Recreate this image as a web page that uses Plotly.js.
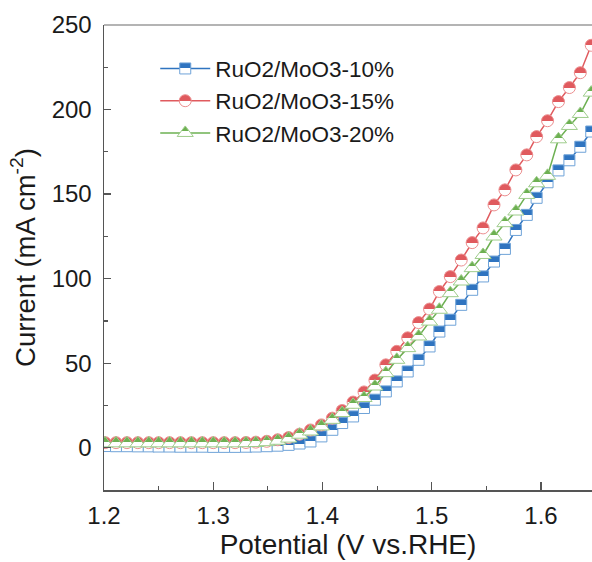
<!DOCTYPE html>
<html><head><meta charset="utf-8">
<script src="https://cdn.plot.ly/plotly-3.0.1.min.js"></script>
<style>html,body{margin:0;padding:0;background:#fff;overflow:hidden}</style>
</head><body><div id="chart" style="width:592px;height:562px"></div>
<script>
const potential = [1.201,1.211,1.221,1.231,1.241,1.250,1.260,1.270,1.280,1.290,
  1.300,1.310,1.320,1.330,1.339,1.349,1.359,1.369,1.379,1.389,
  1.399,1.409,1.418,1.428,1.438,1.448,1.458,1.468,1.478,1.488,
  1.498,1.507,1.517,1.527,1.537,1.547,1.557,1.567,1.577,1.587,
  1.596,1.606,1.616,1.626,1.636,1.646];
const current10 = [1.0,0.9,0.9,0.8,0.8,0.7,0.7,0.6,0.6,0.6,
  0.5,0.5,0.5,0.6,0.7,0.9,1.2,1.7,2.5,3.7,
  6.7,10.6,14.6,18.5,23.5,28.4,33.3,39.2,45.1,52,
  59.9,68.7,75.7,84.5,93.4,101.3,110.1,117.6,128.8,137.7,
  147.8,157,164,170,178,187];
const current15 = [3.0,3.0,3.0,3.0,3.0,3.0,3.0,3.0,3.0,3.0,
  3.0,3.0,3.0,3.1,3.3,3.8,4.7,6.0,8.0,10.5,
  13.5,17.5,22,27,33,40,49,57,65,74,
  82,92.4,101.2,111,121.3,130,143.6,152.5,164.3,173.2,
  184,193.4,204.7,213,221.8,238];
const current20 = [2.6,2.6,2.6,2.6,2.6,2.6,2.6,2.6,2.6,2.6,
  2.6,2.6,2.6,2.7,2.8,3.3,4.1,5.4,7.7,9.6,
  12.6,16.5,20.5,25.4,29.4,36.2,44.1,52,58.9,65.8,
  74.6,81.6,91.4,98.3,106.2,114,124.9,132.8,139.7,149.5,
  156.4,160.8,182.4,190.3,197.4,210];
const seriesNames = ['RuO2/MoO3-10%','RuO2/MoO3-15%','RuO2/MoO3-20%'];
const xTickVals = [1.2,1.3,1.4,1.5,1.6];
const xTickText = ['1.2','1.3','1.4','1.5','1.6'];
const yTickVals = [0,50,100,150,200,250];
const yTickText = ['0','50','100','150','200','250'];

const FONT = 'Liberation Sans, Arial, sans-serif';
function tr(y, name, color, edge, symbol, size){
  return {x: potential, y: y, name: name, type:'scatter', mode:'lines+markers',
    line:{color:color, width:1.5},
    marker:{symbol:symbol, size:size, color:color,
      line:{color:edge, width:1},
      gradient:{type:'vertical', color:'#ffffff'}}};
}
const data = [
  tr(current10, seriesNames[0], '#2f74c0', '#6fa3d8', 'square', 11),
  tr(current15, seriesNames[1], '#e05a5e', '#ec8f90', 'circle', 12),
  tr(current20, seriesNames[2], '#6db052', '#9fcd8c', 'triangle-up', 14)
];
const layout = {
  width:592, height:562,
  margin:{l:104, r:0, t:25, b:72},
  paper_bgcolor:'#fff', plot_bgcolor:'#fff',
  font:{family:FONT, color:'#1a1a1a'},
  showlegend:true,
  legend:{x:0.105, y:0.952, xanchor:'left', yanchor:'top', bgcolor:'rgba(0,0,0,0)',
    font:{family:FONT, size:22.5, color:'#1a1a1a'}, itemwidth:50},
  xaxis:{range:[1.2,1.6467], tickvals:xTickVals, ticktext:xTickText,
    ticks:'inside', ticklen:8, tickwidth:1.2, tickcolor:'#555',
    minor:{dtick:0.05, tick0:1.2, ticks:'inside', ticklen:4, tickwidth:1.2, tickcolor:'#555'},
    showline:true, linecolor:'#555', linewidth:1.5, showgrid:false, zeroline:false,
    tickfont:{family:FONT, size:24, color:'#1a1a1a'}, ticklabelstandoff:4,
    title:{text:'Potential (V vs.RHE)', font:{family:FONT, size:28, color:'#1a1a1a'}, standoff:5}},
  yaxis:{range:[-25,250], tickvals:yTickVals, ticktext:yTickText,
    ticks:'inside', ticklen:7, tickwidth:1.2, tickcolor:'#555',
    minor:{dtick:25, tick0:0, ticks:'inside', ticklen:4, tickwidth:1.2, tickcolor:'#555'},
    showline:true, linecolor:'#555', linewidth:1.5, showgrid:false, zeroline:false,
    tickfont:{family:FONT, size:24, color:'#1a1a1a'}, ticklabelstandoff:6,
    title:{text:'Current (mA cm<sup>-2</sup>)', font:{family:FONT, size:27.5, color:'#1a1a1a'}, standoff:8}},
  shapes:[{type:'line', xref:'paper', yref:'paper', x0:0, x1:1, y0:1, y1:1,
    line:{color:'#b4b4b4', width:2}}]
};
Plotly.newPlot('chart', data, layout, {displayModeBar:false, staticPlot:true}).then(function(){
  document.querySelectorAll('linearGradient').forEach(function(g){
    g.querySelectorAll('stop').forEach(function(s){ s.setAttribute('offset','50%'); });
  });
});
</script></body></html>
